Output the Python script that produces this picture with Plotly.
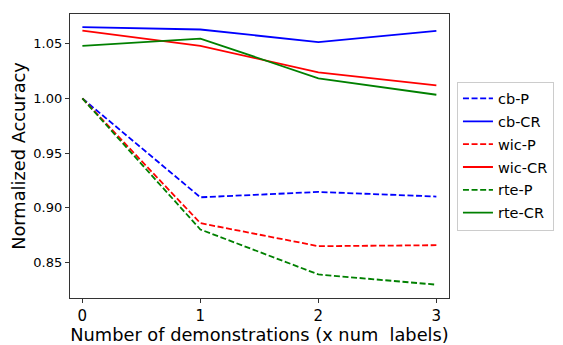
import plotly.graph_objects as go

x_vals = [0, 1, 2, 3]
series_names = ["cb-P", "cb-CR", "wic-P", "wic-CR", "rte-P", "rte-CR"]
cb_p = [1.0, 0.9094, 0.9143, 0.9101]
cb_cr = [1.0653, 1.0632, 1.0516, 1.0619]
wic_p = [1.0, 0.8857, 0.8646, 0.8655]
wic_cr = [1.0622, 1.0482, 1.0239, 1.0120]
rte_p = [1.0, 0.8799, 0.8387, 0.8293]
rte_cr = [1.0482, 1.0549, 1.0184, 1.0034]
x_ticks = [0, 1, 2, 3]
y_ticks = [0.85, 0.90, 0.95, 1.00, 1.05]
y_tick_labels = ["0.85", "0.90", "0.95", "1.00", "1.05"]

series_values = [cb_p, cb_cr, wic_p, wic_cr, rte_p, rte_cr]
colors = ["blue", "blue", "red", "red", "green", "green"]
dashes = ["6px,2.6px", "solid", "6px,2.6px", "solid", "6px,2.6px", "solid"]

fig = go.Figure()
for i, (name, vals, c, d) in enumerate(zip(series_names, series_values, colors, dashes)):
    fig.add_trace(go.Scatter(x=x_vals, y=vals, mode="lines", name=name,
                             legendgroup=f"g{i}",
                             line=dict(color=c, width=1.8, dash=d)))

font = "DejaVu Sans"
# page body has an 8px default margin, so the figure is sized/offset to compensate
fig.update_layout(
    width=555, height=337,
    margin=dict(l=62, r=114, t=6, b=47, autoexpand=False),
    paper_bgcolor="white", plot_bgcolor="white",
    font=dict(family=font, color="black"),
    showlegend=True,
    legend=dict(x=1.021, y=0.5, xanchor="left", yanchor="middle",
                bordercolor="#cccccc", borderwidth=1,
                font=dict(family=font, size=14.5, color="black"),
                tracegroupgap=1, itemwidth=30),
    xaxis=dict(range=[-0.105, 3.107], tickvals=x_ticks, ticks="outside",
               ticklen=4, tickcolor="#333", showgrid=False, zeroline=False,
               showline=True, linecolor="#333", linewidth=1.2, mirror=True,
               automargin=False,
               tickfont=dict(size=15, family=font),
               title=dict(text="Number of demonstrations (x num  labels)",
                          font=dict(size=17.8, family=font), standoff=4)),
    yaxis=dict(range=[0.8171, 1.0774], tickvals=y_ticks, ticktext=y_tick_labels,
               ticks="outside", ticklen=4, tickcolor="#333", showgrid=False,
               zeroline=False, showline=True, linecolor="#333", linewidth=1.2,
               mirror=True, automargin=False, tickfont=dict(size=13, family=font),
               title=dict(text="Normalized Accuracy",
                          font=dict(size=17.8, family=font), standoff=4)),
)

fig.write_html("out.html")
